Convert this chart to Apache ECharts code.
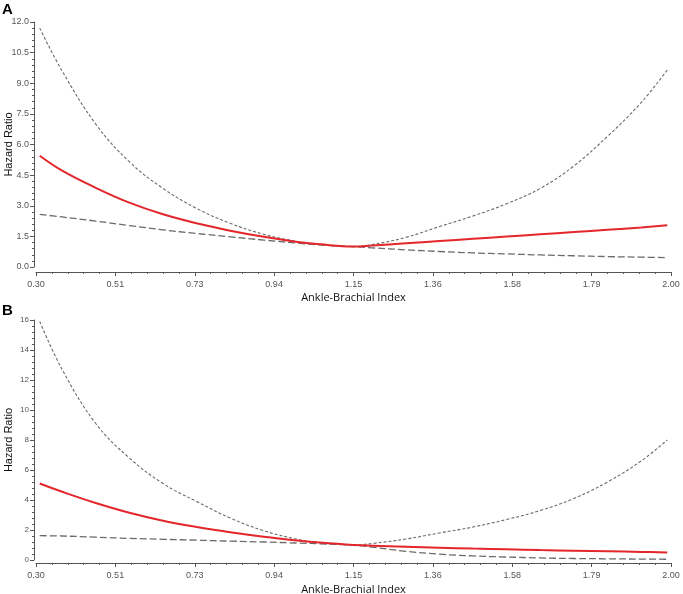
<!DOCTYPE html>
<html>
<head>
<meta charset="utf-8">
<script src="https://cdn.jsdelivr.net/npm/echarts@6/dist/echarts.min.js"></script>
<style>html,body{margin:0;padding:0;background:#fff}#c{width:683px;height:594px}</style>
</head>
<body>
<div id="c"></div>
<script>
// ---- data ----
var abi = [0.31, 0.37, 0.46, 0.55, 0.64, 0.73, 0.82, 0.91, 1.00, 1.06, 1.15, 1.20, 1.29, 1.38, 1.47, 1.56, 1.65, 1.74, 1.83, 1.92, 1.99];

var hrA    = [5.45, 4.72, 3.88, 3.15, 2.58, 2.14, 1.78, 1.48, 1.23, 1.11, 1.00, 1.05, 1.16, 1.27, 1.38, 1.49, 1.60, 1.71, 1.82, 1.94, 2.05];
var upperA = [11.7, 9.6, 7.0, 5.15, 3.85, 2.87, 2.14, 1.60, 1.25, 1.10, 1.00, 1.10, 1.45, 1.98, 2.50, 3.10, 3.85, 4.95, 6.40, 8.05, 9.65];
var lowerA = [2.58, 2.45, 2.25, 2.03, 1.82, 1.64, 1.48, 1.32, 1.17, 1.08, 1.00, 0.94, 0.84, 0.76, 0.69, 0.64, 0.59, 0.55, 0.51, 0.48, 0.46];

var hrB    = [5.10, 4.55, 3.80, 3.15, 2.62, 2.20, 1.85, 1.55, 1.30, 1.16, 1.00, 0.95, 0.88, 0.82, 0.76, 0.71, 0.66, 0.62, 0.58, 0.54, 0.50];
var upperB = [15.9, 12.7, 9.1, 6.8, 5.1, 3.9, 2.8, 1.95, 1.38, 1.15, 1.00, 1.10, 1.40, 1.80, 2.20, 2.70, 3.30, 4.10, 5.20, 6.60, 8.00];
var lowerB = [1.62, 1.60, 1.52, 1.44, 1.38, 1.32, 1.26, 1.20, 1.13, 1.08, 1.00, 0.86, 0.58, 0.39, 0.27, 0.20, 0.14, 0.10, 0.08, 0.06, 0.05];

var xTickLabels = ['0.30', '0.51', '0.73', '0.94', '1.15', '1.36', '1.58', '1.79', '2.00'];
var yTicksA = ['0.0', '1.5', '3.0', '4.5', '6.0', '7.5', '9.0', '10.5', '12.0'];
var yTicksB = ['0', '2', '4', '6', '8', '10', '12', '14', '16'];

var xTitle = 'Ankle-Brachial Index';
var yTitle = 'Hazard Ratio';

// ---- helpers ----
function pairs(xs, ys) { return xs.map(function (x, i) { return [x, ys[i]]; }); }
var axisColor = '#555';
var xMin = 0.30, xMax = 2.00, xInt = 0.2125;

function xAxisDef(gi, off, gap) {
  return {
    type: 'value', gridIndex: gi, min: xMin, max: xMax, interval: xInt, offset: off,
    axisLine: { show: true, onZero: false, lineStyle: { color: axisColor, width: 1 } },
    axisTick: { show: true, length: 4, inside: false, lineStyle: { color: axisColor } },
    minorTick: { show: true, splitNumber: 5, length: 2, lineStyle: { color: axisColor } },
    splitLine: { show: false },
    axisLabel: {
      color: '#555', fontSize: 9, fontFamily: 'Liberation Sans', margin: 8,
      formatter: function (v) { return xTickLabels[Math.round((v - xMin) / xInt)]; }
    },
    name: xTitle, nameLocation: 'middle', nameGap: gap, nameMoveOverlap: false,
    nameTextStyle: { color: '#111', fontSize: 11, fontFamily: 'Open Sans' }
  };
}
function yAxisDef(gi, max, interval, labels, fs) {
  return {
    type: 'value', gridIndex: gi, min: 0, max: max, interval: interval, offset: 2,
    axisLine: { show: true, lineStyle: { color: axisColor, width: 1 } },
    axisTick: { show: true, length: 4, lineStyle: { color: axisColor } },
    minorTick: { show: true, splitNumber: 5, length: 2, lineStyle: { color: axisColor } },
    splitLine: { show: false },
    axisLabel: {
      color: '#555', fontSize: fs, fontFamily: 'Liberation Sans', margin: 5,
      formatter: function (v) { return labels[Math.round(v / interval)]; }
    },
    name: yTitle, nameLocation: 'middle', nameRotate: 90, nameGap: 20, nameMoveOverlap: false,
    nameTextStyle: { color: '#111', fontSize: 11, fontFamily: 'Liberation Sans' }
  };
}
function lineSeries(gi, ys, kind) {
  var s = {
    type: 'line', xAxisIndex: gi, yAxisIndex: gi, data: pairs(abi, ys),
    showSymbol: false, symbol: 'none', smooth: 0.4, silent: true, z: 2
  };
  if (kind === 'hr') { s.lineStyle = { color: '#e3262b', width: 2 }; s.z = 3; }
  else if (kind === 'up') s.lineStyle = { color: '#6a6a6a', width: 1.1, type: [3, 2] };
  else s.lineStyle = { color: '#6a6a6a', width: 1.3, type: [7, 3] };
  return s;
}

var chart = echarts.init(document.getElementById('c'), null, { renderer: 'canvas' });
chart.setOption({
  animation: false,
  backgroundColor: '#fff',
  grid: [
    { left: 36, width: 635, top: 22, height: 245, containLabel: false, outerBoundsMode: 'none' },
    { left: 36, width: 635, top: 320, height: 240, containLabel: false, outerBoundsMode: 'none' }
  ],
  xAxis: [xAxisDef(0, 5, 20), xAxisDef(1, 3, 21)],
  yAxis: [yAxisDef(0, 12, 1.5, yTicksA, 9), yAxisDef(1, 16, 2, yTicksB, 8)],
  series: [
    lineSeries(0, upperA, 'up'), lineSeries(0, lowerA, 'low'), lineSeries(0, hrA, 'hr'),
    lineSeries(1, upperB, 'up'), lineSeries(1, lowerB, 'low'), lineSeries(1, hrB, 'hr')
  ],
  graphic: [
    { type: 'text', left: 2, top: 2, style: { text: 'A', fontSize: 15, fontWeight: 'bold', fontFamily: 'Liberation Sans', fill: '#000' } },
    { type: 'text', left: 2, top: 303, style: { text: 'B', fontSize: 15, fontWeight: 'bold', fontFamily: 'Liberation Sans', fill: '#000' } }
  ]
});
</script>
</body>
</html>
